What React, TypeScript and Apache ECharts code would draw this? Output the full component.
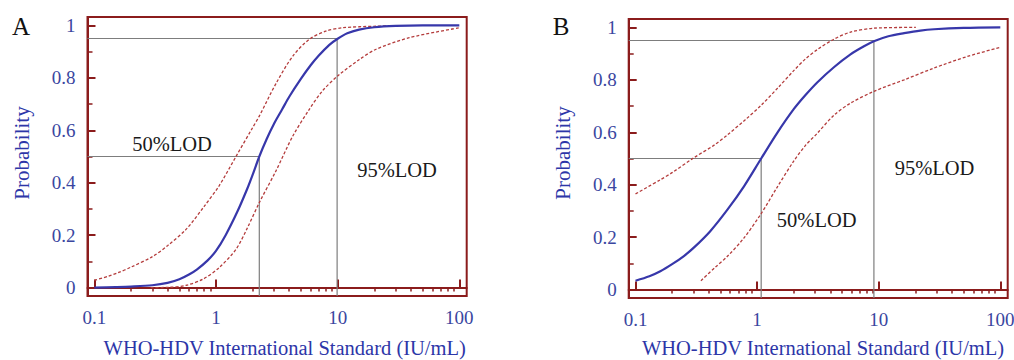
import React, { useEffect, useRef } from 'react';
import * as echarts from 'echarts';

// Axis ranges and ticks
const X_MIN = 0.0879;
const X_MAX = 115;
const Y_MIN = -0.032;
const Y_MAX = 1.032;
const xMajorTicks = [0.1, 1, 10, 100];
const xMinorTicks = [0.2, 0.3, 0.4, 0.5, 0.6, 0.7, 0.8, 0.9, 2, 3, 4, 5, 6, 7, 8, 9, 20, 30, 40, 50, 60, 70, 80, 90];
const yMajorTicks = [0, 0.2, 0.4, 0.6, 0.8, 1];
const yMinorTicks = [0.1, 0.3, 0.5, 0.7, 0.9];

// Panel A — probit fit and 95% confidence bounds
const aFitX = [0.1, 0.15, 0.2, 0.3, 0.4, 0.5, 0.6, 0.7, 0.85, 1, 1.2, 1.5, 1.8, 2, 2.27, 2.6, 3, 3.5, 4, 5, 6, 7, 8.5, 10, 12, 15, 20, 30, 50, 100];
const aFitP = [0.0, 0.002, 0.004, 0.009, 0.018, 0.032, 0.05, 0.07, 0.103, 0.14, 0.2, 0.29, 0.375, 0.43, 0.5, 0.565, 0.625, 0.68, 0.728, 0.797, 0.848, 0.885, 0.925, 0.949, 0.97, 0.984, 0.993, 0.998, 1.0, 1.0];
const aUpX = [0.1, 0.13, 0.157, 0.2, 0.3, 0.4, 0.57, 0.8, 1.06, 1.46, 2, 2.27, 3.11, 4.28, 5.85, 8, 11, 20.7, 32];
const aUpP = [0.028, 0.043, 0.057, 0.078, 0.118, 0.16, 0.223, 0.31, 0.388, 0.5, 0.61, 0.654, 0.778, 0.883, 0.947, 0.978, 0.991, 0.997, 0.999];
const aLoX = [0.29, 0.41, 0.57, 0.78, 1.06, 1.46, 1.8, 2.27, 3.11, 4.28, 5.85, 7.5, 10, 15.1, 20.7, 38.8, 100];
const aLoP = [0.0, 0.001, 0.009, 0.032, 0.076, 0.146, 0.225, 0.324, 0.445, 0.578, 0.68, 0.75, 0.807, 0.87, 0.909, 0.953, 0.991];
const aLod50 = 2.27;
const aLod95 = 9.9;

// Panel B
const bFitX = [0.1, 0.13, 0.16, 0.2, 0.25, 0.3, 0.41, 0.57, 0.78, 1.08, 1.46, 2.0, 2.5, 3.12, 4.28, 5.86, 7.5, 9.13, 12, 16.2, 22, 28.5, 50, 100];
const bFitP = [0.034, 0.051, 0.07, 0.097, 0.128, 0.159, 0.222, 0.305, 0.394, 0.5, 0.597, 0.688, 0.742, 0.79, 0.848, 0.897, 0.927, 0.947, 0.966, 0.978, 0.988, 0.993, 0.998, 1.0];
const bUpX = [0.1, 0.16, 0.2, 0.3, 0.45, 0.57, 0.8, 1.08, 1.5, 2.0, 2.5, 3.12, 4.28, 5.86, 9.13, 20.2];
const bUpP = [0.365, 0.419, 0.446, 0.502, 0.553, 0.59, 0.648, 0.703, 0.772, 0.835, 0.88, 0.915, 0.955, 0.982, 0.997, 1.0];
const bLoX = [0.345, 0.45, 0.57, 0.78, 1.08, 1.46, 2.0, 2.5, 3.12, 4.28, 5.86, 9.13, 16.2, 28.5, 53.5, 100];
const bLoP = [0.034, 0.084, 0.127, 0.197, 0.29, 0.39, 0.49, 0.55, 0.596, 0.665, 0.711, 0.756, 0.8, 0.845, 0.889, 0.924];
const bLod50 = 1.08;
const bLod95 = 9.13;

const FRAME = '#8b1c1c';
const BLUE = '#3737aa';
const RED = '#b43c3c';
const GRAY = '#7d7d7d';
const LABEL_BLUE = '#3a46a0';
const TITLE_BLUE = '#2d36a8';
const FONT = '"Liberation Serif", "Times New Roman", serif';

const zip = (xs: number[], ys: number[]) => xs.map((x, i) => [x, ys[i]]);

function axesFor(gridIndex: number) {
  const xMajor = {
    type: 'log', logBase: 10, gridIndex, min: X_MIN, max: X_MAX,
    axisLine: { show: true, lineStyle: { color: FRAME, width: 2 } },
    axisTick: { show: true, inside: true, length: 8, customValues: xMajorTicks, lineStyle: { color: FRAME, width: 2 } },
    axisLabel: { show: true, customValues: xMajorTicks, margin: 12, color: LABEL_BLUE, fontFamily: FONT, fontSize: 19, formatter: (v: number) => String(+v.toPrecision(6)) },
    splitLine: { show: false }, minorTick: { show: false },
  };
  const xMinor = {
    type: 'log', logBase: 10, gridIndex, min: X_MIN, max: X_MAX,
    axisLine: { show: false },
    axisTick: { show: true, inside: true, length: 4, customValues: xMinorTicks, lineStyle: { color: FRAME, width: 1.5 } },
    axisLabel: { show: false }, splitLine: { show: false },
  };
  const yMajor = {
    type: 'value', gridIndex, min: Y_MIN, max: Y_MAX, position: 'left',
    axisLine: { show: true, lineStyle: { color: FRAME, width: 2 } },
    axisTick: { show: true, inside: true, length: 8, customValues: yMajorTicks, lineStyle: { color: FRAME, width: 2 } },
    axisLabel: { show: true, customValues: yMajorTicks, margin: 12, color: LABEL_BLUE, fontFamily: FONT, fontSize: 19 },
    splitLine: { show: false },
  };
  const yMinor = {
    type: 'value', gridIndex, min: Y_MIN, max: Y_MAX, position: 'left', offset: 0,
    axisLine: { show: false },
    axisTick: { show: true, inside: true, length: 5, customValues: yMinorTicks, lineStyle: { color: FRAME, width: 1.5 } },
    axisLabel: { show: false }, splitLine: { show: false },
  };
  return { x: [xMajor, xMinor], y: [yMajor, yMinor] };
}

function seriesFor(gridIndex: number, fitX: number[], fitP: number[], upX: number[], upP: number[], loX: number[], loP: number[], lod50: number, lod95: number) {
  const ax = { xAxisIndex: gridIndex * 2, yAxisIndex: gridIndex * 2 };
  const base = { type: 'line', symbol: 'none', showSymbol: false, silent: true, ...ax };
  const curve = { smooth: 0.3 };
  return [
    { ...base, name: 'ref50', data: [[X_MIN, 0.5], [lod50, 0.5], [lod50, Y_MIN]], lineStyle: { color: GRAY, width: 1.2 } },
    { ...base, name: 'ref95', data: [[X_MIN, 0.95], [lod95, 0.95], [lod95, Y_MIN]], lineStyle: { color: GRAY, width: 1.2 } },
    { ...base, ...curve, name: 'upper', data: zip(upX, upP), lineStyle: { color: RED, width: 1.3, type: [3, 2] } },
    { ...base, ...curve, name: 'lower', data: zip(loX, loP), lineStyle: { color: RED, width: 1.3, type: [3, 2] } },
    { ...base, ...curve, name: 'fit', data: zip(fitX, fitP), lineStyle: { color: BLUE, width: 2.2 } },
  ];
}

const txt = (text: string, x: number, y: number, fontSize: number, fill: string, extra: any = {}) => ({
  type: 'text', x, y, ...extra,
  style: { text, fill, fontSize, fontFamily: FONT, align: 'center', verticalAlign: 'middle' },
});

export default function App() {
  const ref = useRef<HTMLDivElement>(null);
  useEffect(() => {
    if (!ref.current) return;
    const chart = echarts.init(ref.current, null, { renderer: 'svg' });
    const a = axesFor(0);
    const b = axesFor(1);
    const option: any = {
      animation: false,
      backgroundColor: '#ffffff',
      grid: [
        { left: 87.5, top: 17, width: 379.2, height: 279, show: true, borderColor: FRAME, borderWidth: 2, outerBoundsMode: 'none' },
        { left: 628.7, top: 19, width: 379, height: 279, show: true, borderColor: FRAME, borderWidth: 2, outerBoundsMode: 'none' },
      ],
      xAxis: [...a.x, ...b.x],
      yAxis: [...a.y, ...b.y],
      series: [
        ...seriesFor(0, aFitX, aFitP, aUpX, aUpP, aLoX, aLoP, aLod50, aLod95),
        ...seriesFor(1, bFitX, bFitP, bUpX, bUpP, bLoX, bLoP, bLod50, bLod95),
      ],
      graphic: [
        txt('A', 21, 26, 25, '#111111'),
        txt('B', 561, 26, 25, '#111111'),
        txt('Probability', 22, 153, 21, TITLE_BLUE, { rotation: Math.PI / 2 }),
        txt('Probability', 563, 153, 21, TITLE_BLUE, { rotation: Math.PI / 2 }),
        txt('WHO-HDV International Standard (IU/mL)', 284.7, 347.5, 20.5, TITLE_BLUE),
        txt('WHO-HDV International Standard (IU/mL)', 823, 347.5, 20.5, TITLE_BLUE),
        txt('50%LOD', 172, 143.5, 20.5, '#1a1a1a'),
        txt('95%LOD', 397, 169.5, 20.5, '#1a1a1a'),
        txt('50%LOD', 816.7, 220, 20.5, '#1a1a1a'),
        txt('95%LOD', 934.5, 168, 20.5, '#1a1a1a'),
      ],
    };
    chart.setOption(option);
    return () => chart.dispose();
  }, []);
  return <div ref={ref} style={{ position: 'absolute', left: 0, top: 0, width: 1014, height: 360 }} />;
}
